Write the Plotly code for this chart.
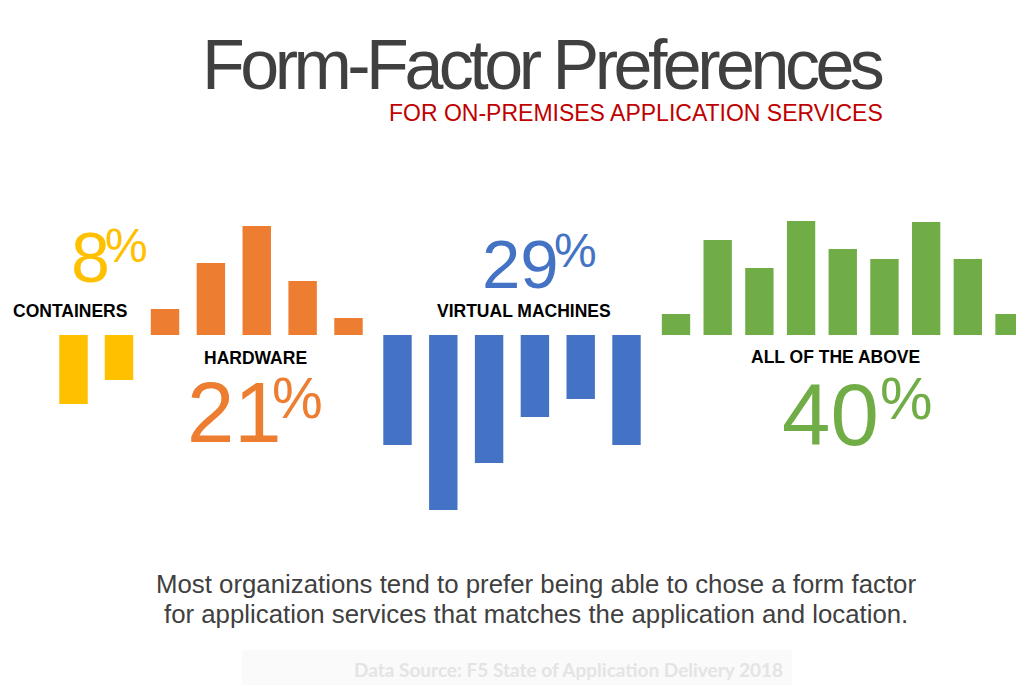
import plotly.graph_objects as go

# ---------------- data ----------------
categories = ["CONTAINERS", "HARDWARE", "VIRTUAL MACHINES", "ALL OF THE ABOVE"]
shares = [8, 21, 29, 40]  # percent
containers_bars = [-69, -45]
hardware_bars = [26, 72, 109, 54, 17]
vm_bars = [-110, -175, -128, -82, -64, -110]
all_bars = [21, 95, 67, 114, 86, 76, 113, 76, 21]
colors = ["#FFC000", "#ED7D31", "#4472C4", "#70AD47"]

title = "Form-Factor Preferences"
subtitle = "FOR ON-PREMISES APPLICATION SERVICES"
summary_lines = [
    "Most organizations tend to prefer being able to chose a form factor",
    "for application services that matches the application and location.",
]
source = "Data Source: F5 State of Application Delivery 2018"

# page is 1024x693; the browser's default body margin offsets the figure by 8px
PAGE_W, PAGE_H = 1024, 693
OFF = 8
W, H = PAGE_W - OFF, PAGE_H - OFF


def px(x):
    return (x - OFF) / W


def py(y):
    return 1 - (y - OFF) / H


series = [containers_bars, hardware_bars, vm_bars, all_bars]
# layout of the four bar groups (page-pixel domains, bar widths in slot units)
domains = [(50.75, 141.75), (142.06, 371.44), (374.6, 649.4), (655.16, 1024)]
slot_px = [45.5, 45.875, 45.8, 41.69]
widths = [0.626, 0.62, 0.62, 0.68]

fig = go.Figure()
layout_axes = {}
for i, vals in enumerate(series):
    ax = "x" if i == 0 else f"x{i + 1}"
    key = "xaxis" if i == 0 else f"xaxis{i + 1}"
    fig.add_trace(go.Bar(
        x=list(range(len(vals))), y=vals, xaxis=ax, yaxis="y",
        marker=dict(color=colors[i], line=dict(width=0)),
        width=widths[i], name=categories[i], showlegend=False,
        hoverinfo="skip",
    ))
    d0, d1 = domains[i]
    span = (d1 - d0) / slot_px[i]
    layout_axes[key] = dict(domain=[max(0, px(d0)), min(1, px(d1))], range=[-0.5, -0.5 + span],
                            visible=False, showgrid=False, zeroline=False,
                            anchor="y", fixedrange=True)

baseline = 335  # page y of the bars' common baseline
annotations = []


def add_text(text, x, y, size, color, xanchor="center", family="Liberation Sans, Arial, sans-serif"):
    f = dict(size=size, color=color, family=family)
    annotations.append(dict(text=text, x=px(x), y=py(y), xref="paper", yref="paper",
                            xanchor=xanchor, yanchor="middle", showarrow=False,
                            font=f, borderpad=0))


# title / subtitle
add_text(f'<span style="letter-spacing:-4.5px">{title}</span>', 542.5, 65, 70, "#404040")
add_text(subtitle, 884, 113, 23, "#C00000", xanchor="right")

# percentages
num_pos = [(70, 258, 70), (185.5, 412.5, 85), (481, 264.5, 69), (781, 414, 87)]
pct_pos = [(104.3, 245.5, 48), (270.6, 397.5, 57), (553.3, 250.5, 48), (878.5, 398.5, 59)]
for i, s in enumerate(shares):
    nx, ny, ns = num_pos[i]
    add_text(str(s), nx, ny, ns, colors[i], xanchor="left")
    qx, qy, qs = pct_pos[i]
    add_text("%", qx, qy, qs, colors[i], xanchor="left")

# category labels
label_pos = [(70, 310.5), (255.5, 357.5), (524, 311), (835.5, 356.5)]
for i, c in enumerate(categories):
    add_text(f"<b>{c}</b>", label_pos[i][0], label_pos[i][1], 17.5, "#000000")

# summary
add_text(summary_lines[0], 536, 584, 25.8, "#404040")
add_text(summary_lines[1], 536, 614, 25.8, "#404040")

# source
add_text(f"<b>{source}</b>", 568.5, 669, 19, "#E4E4E4", family="Lato, Open Sans, sans-serif")

fig.update_layout(
    width=W, height=H,
    margin=dict(l=0, r=0, t=0, b=0),
    paper_bgcolor="white", plot_bgcolor="rgba(0,0,0,0)",
    yaxis=dict(domain=[0, 1], range=[baseline - PAGE_H, baseline - OFF], visible=False,
               showgrid=False, zeroline=False, fixedrange=True),
    annotations=annotations,
    shapes=[dict(type="rect", xref="paper", yref="paper", x0=px(242), x1=px(792),
                 y0=py(685), y1=py(650), fillcolor="#FAFAFA", line=dict(width=0), layer="below")],
    showlegend=False,
    **layout_axes,
)

fig.write_html("out.html", config={"displayModeBar": False})
